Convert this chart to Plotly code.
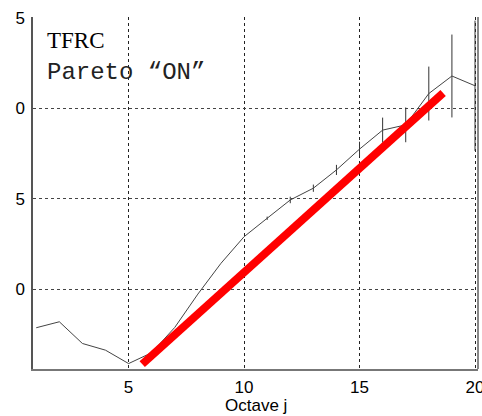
import plotly.graph_objects as go

# Data
octave = list(range(1, 21))
logvar = [7.88, 8.21, 7.01, 6.64, 5.90, 6.50, 7.90, 9.74, 11.44, 12.91,
          13.93, 14.94, 15.59, 16.60, 17.75, 18.80, 19.09, 20.82, 21.79, 21.25]
err = [0, 0, 0, 0, 0, 0, 0, 0, 0, 0,
       0.09, 0.18, 0.20, 0.28, 0.41, 0.69, 0.96, 1.49, 2.29, 3.6]
fit_x = [5.59, 18.62]
fit_y = [5.87, 20.85]

xtick_vals = [5, 10, 15, 20]
xtick_text = ["5", "10", "15", "20"]
ytick_vals = [10, 15, 20, 25]
ytick_text = ["0", "5", "0", "5"]

fig = go.Figure()
fig.add_trace(go.Scatter(
    x=octave, y=logvar, mode="lines",
    line=dict(color="#444444", width=1),
    error_y=dict(type="data", array=err, visible=True, thickness=1, width=0, color="#333333"),
    showlegend=False, hoverinfo="skip"))
fig.add_trace(go.Scatter(
    x=fit_x, y=fit_y, mode="lines",
    line=dict(color="#ff0000", width=8),
    showlegend=False, hoverinfo="skip"))

fig.add_annotation(x=0, y=1, xref="paper", yref="paper", xanchor="left", yanchor="top",
                   xshift=12, yshift=-9, text="TFRC", showarrow=False,
                   font=dict(family="Liberation Serif, Times New Roman, serif", size=23, color="black"))
fig.add_annotation(x=0, y=1, xref="paper", yref="paper", xanchor="left", yanchor="top",
                   xshift=12, yshift=-40, text="Pareto \u201cON\u201d", showarrow=False,
                   font=dict(family="Courier New, Nimbus Mono PS, FreeMono, Liberation Mono, monospace",
                             size=24, color="#222222"))
fig.add_annotation(x=0.5, y=0, xref="paper", yref="paper", xanchor="center", yanchor="middle",
                   yshift=-36, text="Octave j", showarrow=False,
                   font=dict(family="Liberation Sans, Arial, sans-serif", size=17, color="black"))

fig.update_layout(
    width=482, height=416,
    margin=dict(l=33, r=4, t=17, b=47),
    paper_bgcolor="white", plot_bgcolor="white",
    font=dict(family="Liberation Sans, Arial, sans-serif", size=17, color="black"),
)
fig.update_xaxes(range=[0.86, 20.13], tickvals=xtick_vals, ticktext=xtick_text,
                 showgrid=True, gridcolor="#222222", griddash="3px,3px", gridwidth=1,
                 showline=True, linecolor="#777777", linewidth=2, mirror=False,
                 ticks="", zeroline=False, automargin=False, ticklabelstandoff=2,
                 ticklabeloverflow="allow")
fig.update_yaxes(range=[5.6, 25.05], tickvals=ytick_vals, ticktext=ytick_text,
                 showgrid=True, gridcolor="#444444", griddash="3px,3px", gridwidth=1,
                 showline=True, linecolor="#555555", linewidth=1.5,
                 ticks="", zeroline=False, ticklabelstandoff=3, automargin=False)
fig.add_shape(type="line", xref="paper", yref="paper", x0=1, x1=1, y0=0, y1=1,
              line=dict(color="#888888", width=2))

fig.write_html("out.html", config={"displayModeBar": False},
               post_script="document.body.style.margin='0';")
